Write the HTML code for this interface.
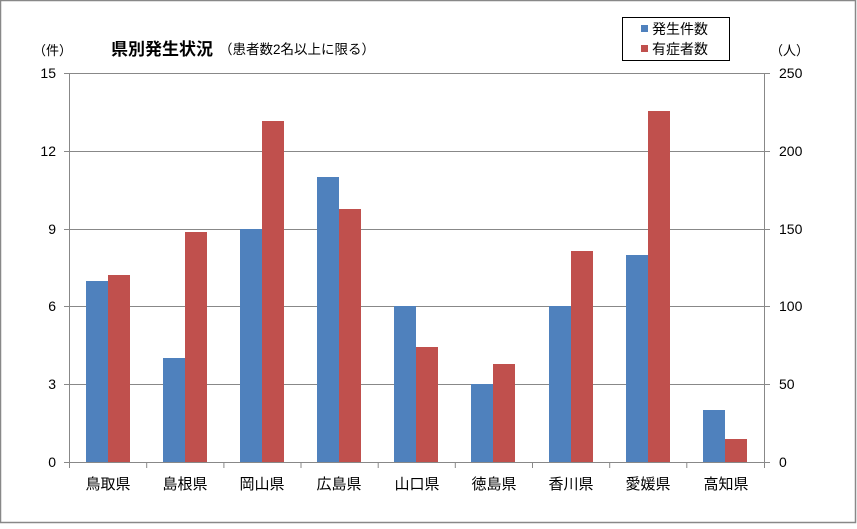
<!DOCTYPE html>
<html><head><meta charset="utf-8"><style>
body{margin:0;background:#fff}
text{font-family:"Liberation Sans","Noto Sans CJK JP",sans-serif;fill:#000}
</style></head><body>
<svg width="857" height="524" viewBox="0 0 857 524">
<rect x="0.5" y="0.5" width="855" height="522" fill="#fff" stroke="#888" stroke-width="1.5"/>
<g stroke="#888" stroke-width="1">
<line x1="69.5" y1="73.5" x2="764.5" y2="73.5"/>
<line x1="69.5" y1="151.5" x2="764.5" y2="151.5"/>
<line x1="69.5" y1="229.5" x2="764.5" y2="229.5"/>
<line x1="69.5" y1="306.5" x2="764.5" y2="306.5"/>
<line x1="69.5" y1="384.5" x2="764.5" y2="384.5"/>
<line x1="64" y1="73.5" x2="69.5" y2="73.5"/><line x1="64" y1="151.5" x2="69.5" y2="151.5"/><line x1="64" y1="229.5" x2="69.5" y2="229.5"/><line x1="64" y1="306.5" x2="69.5" y2="306.5"/><line x1="64" y1="384.5" x2="69.5" y2="384.5"/><line x1="64" y1="462.5" x2="69.5" y2="462.5"/>
<line x1="764.5" y1="73.5" x2="770" y2="73.5"/><line x1="764.5" y1="151.5" x2="770" y2="151.5"/><line x1="764.5" y1="229.5" x2="770" y2="229.5"/><line x1="764.5" y1="306.5" x2="770" y2="306.5"/><line x1="764.5" y1="384.5" x2="770" y2="384.5"/><line x1="764.5" y1="462.5" x2="770" y2="462.5"/>
</g>
<g fill="#4f81bd">
<rect x="86" y="281" width="22" height="181"/>
<rect x="163" y="358" width="22" height="104"/>
<rect x="240" y="229" width="22" height="233"/>
<rect x="317" y="177" width="22" height="285"/>
<rect x="394" y="306" width="22" height="156"/>
<rect x="471" y="384" width="22" height="78"/>
<rect x="549" y="306" width="22" height="156"/>
<rect x="626" y="255" width="22" height="207"/>
<rect x="703" y="410" width="22" height="52"/>
</g>
<g fill="#c0504d">
<rect x="108" y="275" width="22" height="187"/>
<rect x="185" y="232" width="22" height="230"/>
<rect x="262" y="121" width="22" height="341"/>
<rect x="339" y="209" width="22" height="253"/>
<rect x="416" y="347" width="22" height="115"/>
<rect x="493" y="364" width="22" height="98"/>
<rect x="571" y="251" width="22" height="211"/>
<rect x="648" y="111" width="22" height="351"/>
<rect x="725" y="439" width="22" height="23"/>
</g>
<g stroke="#888" stroke-width="1">
<line x1="69.5" y1="73" x2="69.5" y2="468"/>
<line x1="764.5" y1="73" x2="764.5" y2="468"/>
<line x1="69.5" y1="462.5" x2="764.5" y2="462.5"/>
<line x1="146.7" y1="462" x2="146.7" y2="468"/><line x1="223.9" y1="462" x2="223.9" y2="468"/><line x1="301" y1="462" x2="301" y2="468"/><line x1="378.2" y1="462" x2="378.2" y2="468"/><line x1="455.3" y1="462" x2="455.3" y2="468"/><line x1="532.5" y1="462" x2="532.5" y2="468"/><line x1="609.7" y1="462" x2="609.7" y2="468"/><line x1="686.8" y1="462" x2="686.8" y2="468"/>
</g>
<g font-size="14" text-anchor="end">
<text x="56" y="78">15</text><text x="56" y="156">12</text><text x="56" y="234">9</text><text x="56" y="311">6</text><text x="56" y="389">3</text><text x="56" y="467">0</text>
</g>
<g font-size="14" text-anchor="start">
<text x="779" y="78">250</text><text x="779" y="156">200</text><text x="779" y="234">150</text><text x="779" y="311">100</text><text x="779" y="389">50</text><text x="779" y="467">0</text>
</g>
<g font-size="15" text-anchor="middle">
<text x="108" y="489">鳥取県</text><text x="185" y="489">島根県</text><text x="262" y="489">岡山県</text><text x="339" y="489">広島県</text><text x="417" y="489">山口県</text><text x="494" y="489">徳島県</text><text x="571" y="489">香川県</text><text x="648" y="489">愛媛県</text><text x="726" y="489">高知県</text>
</g>
<text x="33" y="55" font-size="13">（件）</text>
<text x="770" y="55" font-size="13">（人）</text>
<text x="111" y="55" font-size="17" font-weight="bold">県別発生状況</text>
<text x="219" y="54" font-size="13.5">（患者数2名以上に限る）</text>
<rect x="622.5" y="17.5" width="107" height="43" fill="#fff" stroke="#000" stroke-width="1"/>
<rect x="641" y="25" width="7" height="7" fill="#4f81bd"/>
<text x="652" y="34" font-size="14">発生件数</text>
<rect x="641" y="45" width="7" height="7" fill="#c0504d"/>
<text x="652" y="54" font-size="14">有症者数</text>
</svg>
</body></html>
